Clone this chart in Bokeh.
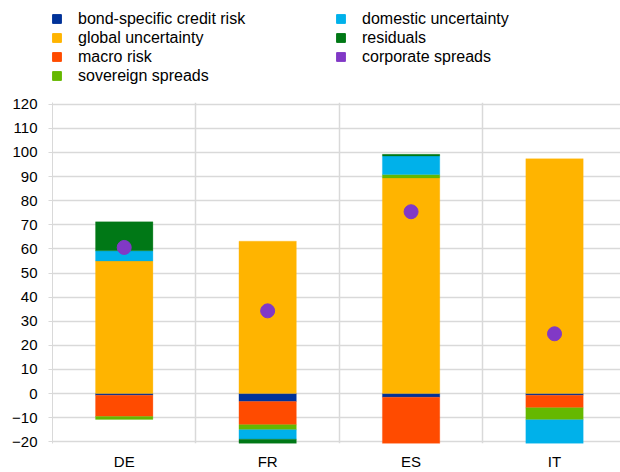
from bokeh.plotting import figure
from bokeh.layouts import column
from bokeh.models import (ColumnDataSource, FixedTicker, Legend, LegendItem, Range1d)
from bokeh.embed import file_html
from bokeh.resources import INLINE

# ---- data ----
countries = ["DE", "FR", "ES", "IT"]
bond_specific = [-0.7, -3.3, -1.5, -0.7]
global_unc = [55.0, 63.2, 89.4, 97.4]
macro_risk = [-8.8, -9.6, -19.3, -5.2]
sovereign = [-1.2, -2.1, 1.4, -5.0]
domestic_unc = [4.2, -3.9, 7.7, -9.9]
residuals = [12.0, -1.9, 0.7, 0.0]
corporate = [60.6, 34.3, 75.4, 24.8]
y_ticks = [-20, -10, 0, 10, 20, 30, 40, 50, 60, 70, 80, 90, 100, 110, 120]

series = [
    ("bond-specific credit risk", bond_specific, "#003299"),
    ("global uncertainty", global_unc, "#ffb400"),
    ("macro risk", macro_risk, "#ff4b00"),
    ("sovereign spreads", sovereign, "#65b800"),
    ("domestic uncertainty", domestic_unc, "#00b1ea"),
    ("residuals", residuals, "#007816"),
]
dot_name = "corporate spreads"
dot_color = "#8139c6"
FONT = "Liberation Sans"
GRID = "#d9d9d9"

xpos = [i + 0.5 for i in range(len(countries))]

# ---- main chart ----
p = figure(width=620, height=378, output_backend="svg", toolbar_location=None,
           x_range=Range1d(0, 3.96), y_range=Range1d(-20.7, 120.7),
           min_border_left=52, min_border_right=0, min_border_top=8,
           min_border_bottom=28)
p.outline_line_color = None
p.background_fill_color = "white"

# stacked bars: positives and negatives stacked separately in series order
pos_base = [0.0] * len(countries)
neg_base = [0.0] * len(countries)
for name, vals, col in series:
    xs, bottoms, tops = [], [], []
    for i, v in enumerate(vals):
        if v == 0:
            continue
        xs.append(xpos[i])
        if v > 0:
            bottoms.append(pos_base[i]); tops.append(pos_base[i] + v); pos_base[i] += v
        else:
            bottoms.append(neg_base[i]); tops.append(neg_base[i] + v); neg_base[i] += v
    src = ColumnDataSource(dict(x=xs, bottom=bottoms, top=tops))
    p.vbar(x="x", bottom="bottom", top="top", width=0.4, source=src,
           fill_color=col, line_color=col, line_width=0.3)

dsrc = ColumnDataSource(dict(x=xpos, y=corporate))
p.scatter(x="x", y="y", size=14, source=dsrc, fill_color=dot_color,
          line_color=dot_color)

p.xaxis.ticker = FixedTicker(ticks=xpos)
p.xaxis.major_label_overrides = {x: c for x, c in zip(xpos, countries)}
p.xaxis.axis_line_color = None
p.xaxis.major_tick_line_color = None
p.xaxis.minor_tick_line_color = None
p.xaxis.major_label_standoff = 3
p.xaxis.major_label_text_font = FONT
p.xaxis.major_label_text_font_size = "15px"
p.xaxis.major_label_text_color = "#000000"

p.yaxis.ticker = FixedTicker(ticks=y_ticks)
p.yaxis.axis_line_color = GRID
p.yaxis.major_tick_line_color = GRID
p.yaxis.major_tick_out = 4
p.yaxis.major_tick_in = 0
p.yaxis.minor_tick_line_color = None
p.yaxis.major_label_standoff = 11
p.yaxis.major_label_text_font = FONT
p.yaxis.major_label_text_font_size = "15px"
p.yaxis.major_label_text_color = "#000000"

p.xgrid.ticker = FixedTicker(ticks=[1, 2, 3])
p.xgrid.grid_line_color = GRID
p.xgrid.grid_line_width = 1.5
p.ygrid.ticker = FixedTicker(ticks=y_ticks)
p.ygrid.grid_line_color = GRID
p.ygrid.grid_line_width = 1.5

# ---- legend strip ----
lf = figure(width=620, height=94, output_backend="svg", toolbar_location=None,
            x_range=Range1d(0, 1), y_range=Range1d(0, 1),
            min_border=0, min_border_left=0, min_border_right=0,
            min_border_top=0, min_border_bottom=0)
lf.axis.visible = False
lf.grid.visible = False
lf.outline_line_color = None

legend_order = ["bond-specific credit risk", "global uncertainty", "macro risk",
                "sovereign spreads", "domestic uncertainty", "residuals", dot_name]
colors = {s[0]: s[2] for s in series}
colors[dot_name] = dot_color
items = []
for n in legend_order:
    r = lf.rect(x=[-10], y=[-10], width=1, height=1, fill_color=colors[n],
                line_color=colors[n])
    items.append(LegendItem(label=n, renderers=[r]))

lg = Legend(items=items, location=(-1, 9), orientation="vertical", nrows=4,
            padding=0, margin=0, spacing=0, border_line_color=None,
            background_fill_alpha=0, glyph_width=11, glyph_height=11,
            label_height=19, label_width=257, label_standoff=16,
            label_text_font=FONT, label_text_font_size="16px",
            label_text_color="#000000")
lf.add_layout(lg, "center")

layout = column(lf, p, spacing=0)
open("out.html", "w").write(file_html(layout, INLINE))
